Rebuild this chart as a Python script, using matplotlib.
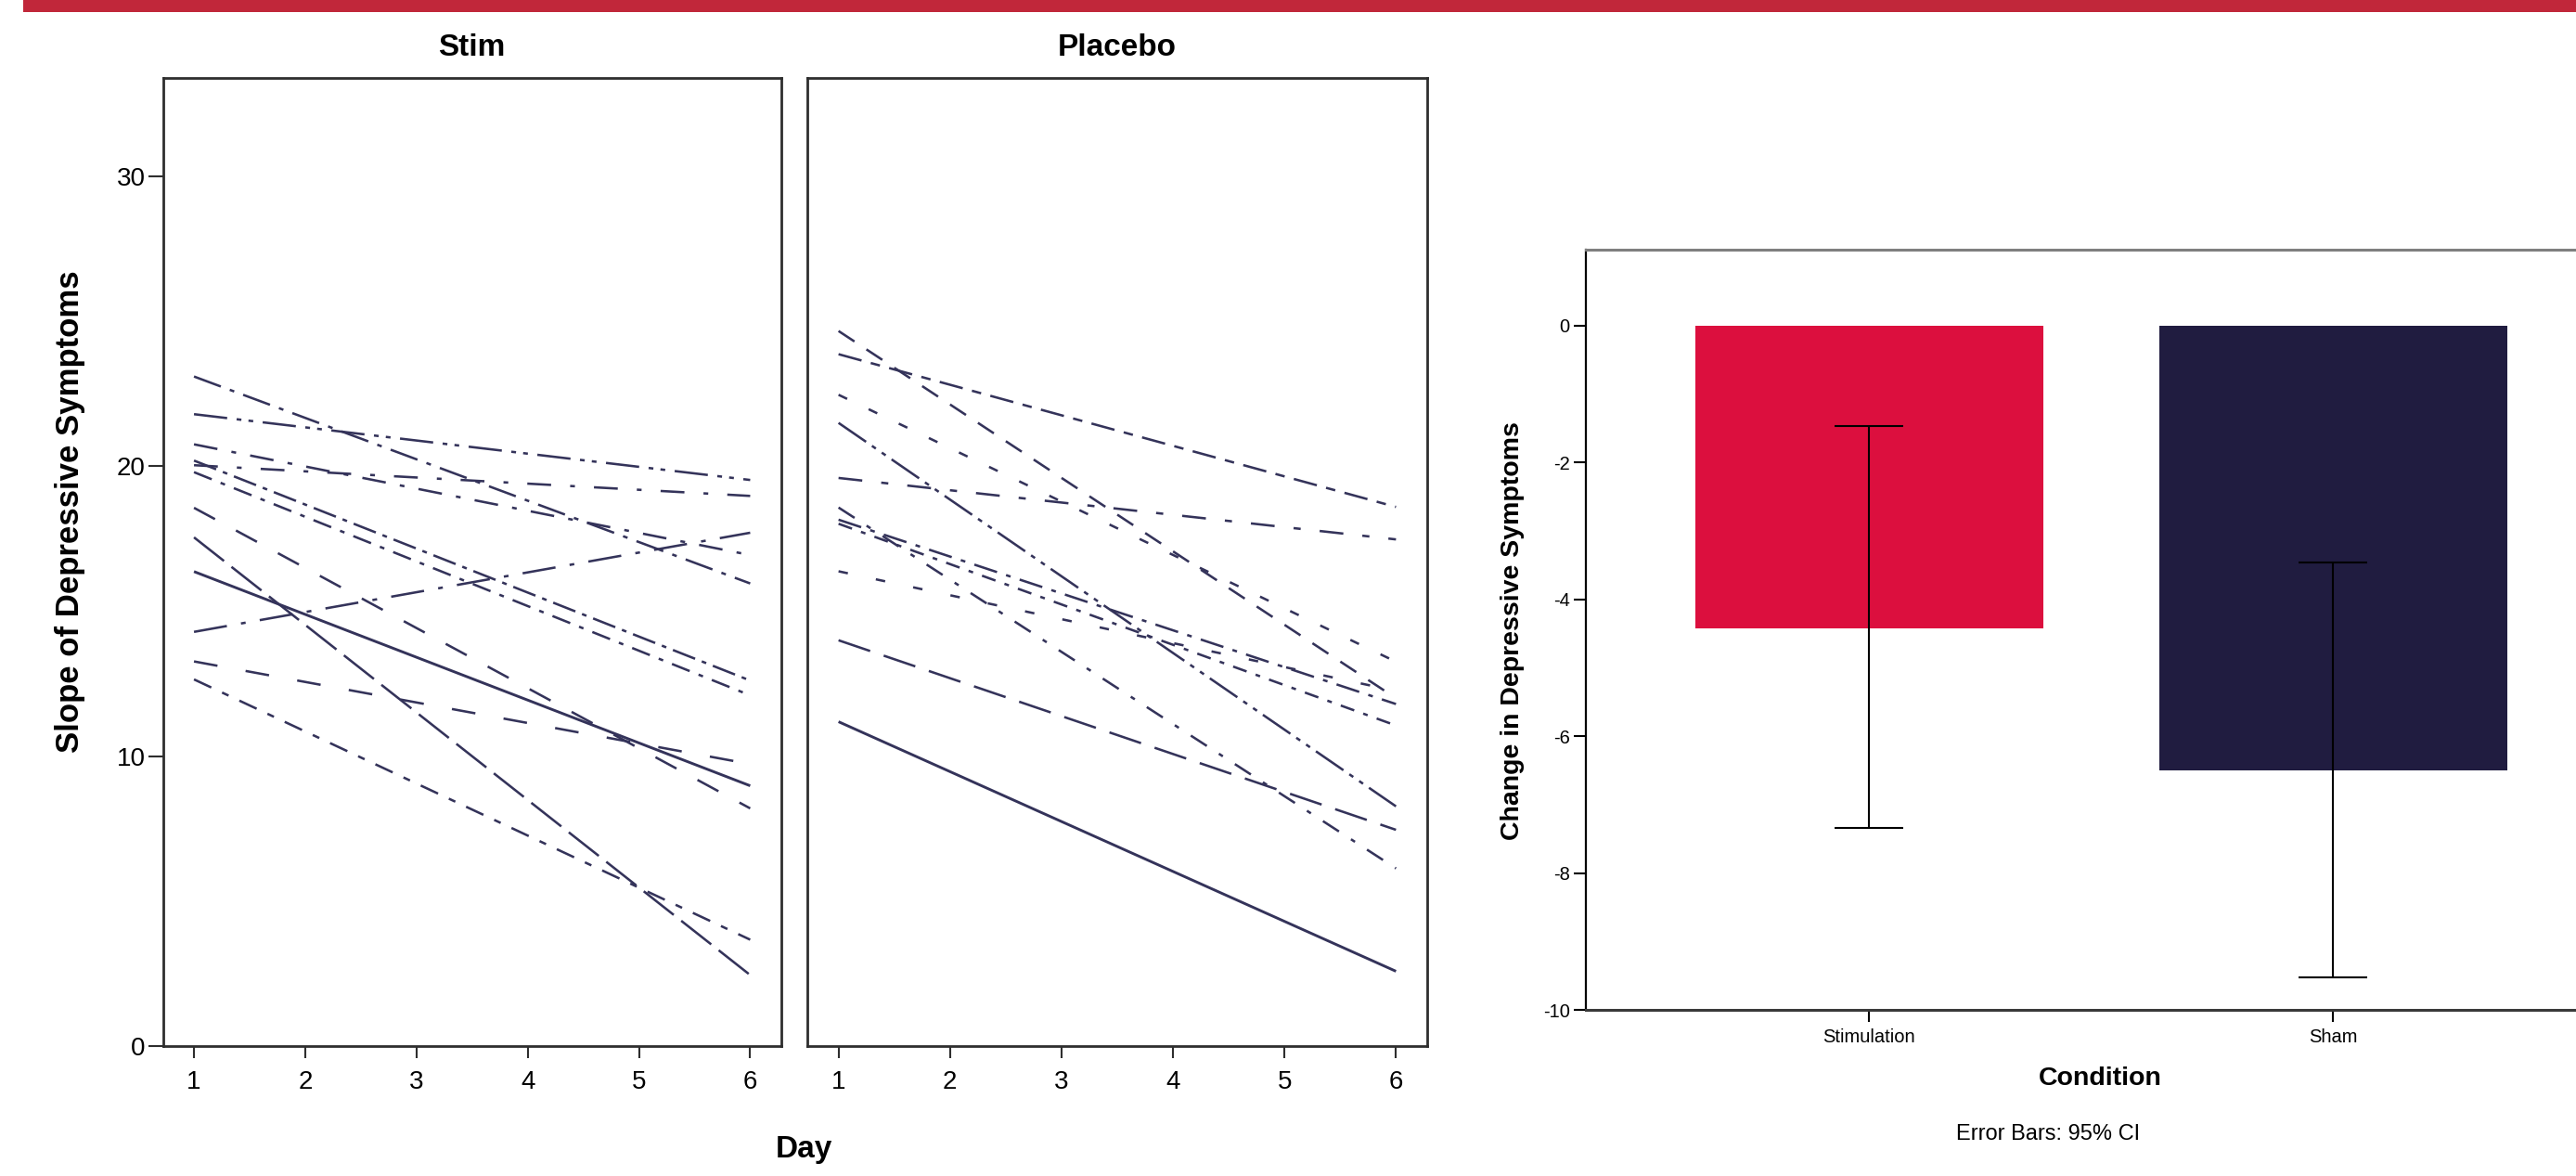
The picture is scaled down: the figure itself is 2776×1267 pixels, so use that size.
import matplotlib
matplotlib.use("Agg")
import matplotlib.pyplot as plt
from matplotlib.patches import Rectangle

plt.rcParams['font.family'] = ['Liberation Sans', 'DejaVu Sans']

# ---------------- data ----------------
days_stim = [1, 6]
stim_start = [23.1, 21.8, 20.76, 20.2, 20.04, 19.8, 18.57, 17.55, 16.37, 14.29, 13.27, 12.65]
stim_end   = [15.96, 19.53, 16.94, 12.61, 18.98, 12.1, 8.2, 2.45, 8.98, 17.71, 9.73, 3.67]

days_placebo = [1, 6]
placebo_start = [24.67, 23.87, 22.47, 21.5, 19.6, 18.58, 18.16, 18.02, 16.38, 14.0, 11.19]
placebo_end   = [12.0, 18.6, 13.26, 8.27, 17.48, 6.13, 11.8, 11.06, 12.25, 7.46, 2.58]

day_ticks = [1, 2, 3, 4, 5, 6]
slope_ticks = [0, 10, 20, 30]
panel_titles = ["Stim", "Placebo"]

conditions = ["Stimulation", "Sham"]
change_mean = [-4.42, -6.50]
ci_low = [-7.34, -9.53]
ci_high = [-1.47, -3.46]
bar_yticks = [0, -2, -4, -6, -8, -10]

# ---------------- styles ----------------
stim_styles = [(0, (12, 4, 2, 4)), (0, (14, 4, 2, 3, 2, 4)), (0, (10, 6, 2, 6)),
               (0, (10, 3, 2, 3)), (0, (10, 8, 2, 8)), (0, (8, 4, 2, 4)),
               (0, (10, 10)), (0, (16, 4)), '-', (0, (14, 6, 2, 6)),
               (0, (10, 12)), (0, (8, 5, 3, 5))]
placebo_styles = [(0, (8, 6)), (0, (10, 4, 4, 4)), (0, (4, 10)), (0, (14, 3, 2, 3, 2, 3)),
                  (0, (10, 8, 3, 8)), (0, (8, 6, 2, 6)), (0, (10, 4, 2, 4)),
                  (0, (6, 4, 2, 4)), (0, (4, 12)), (0, (14, 6)), '-']

W, H = 2776, 1267
DPI = 100
fig = plt.figure(figsize=(W / DPI, H / DPI), dpi=DPI)

def fx(px):
    return px / W

def fy(py):
    return 1 - py / H

line_color = '#34335a'
spine_color = '#2e2e2e'

# top red banner
fig.add_artist(Rectangle((fx(25), fy(13)), 1 - fx(25), 13 / H,
                         transform=fig.transFigure, facecolor='#c1273a',
                         edgecolor='none'))

# ---------------- line panels ----------------
top_px, bot_px = 84, 1127
panels = [(175.5, 842), (870, 1538)]
datasets = [(days_stim, stim_start, stim_end, stim_styles),
            (days_placebo, placebo_start, placebo_end, placebo_styles)]

for i, ((l, r), (days, st, en, styles)) in enumerate(zip(panels, datasets)):
    ax = fig.add_axes([fx(l), fy(bot_px), (r - l) / W, (bot_px - top_px) / H])
    for s, e, ls in zip(st, en, styles):
        lw = 2.1 if ls == '-' else 1.85
        ax.plot(days, [s, e], color=line_color, lw=lw, linestyle=ls,
                solid_capstyle='butt', dash_capstyle='butt')
    ax.set_xlim(0.72, 6.28)
    ax.set_ylim(0, 33.4)
    ax.set_xticks(day_ticks)
    ax.set_xticklabels([str(d) for d in day_ticks], fontsize=20)
    ax.tick_params(axis='x', direction='out', length=9.5, width=1.5,
                   color=spine_color, pad=9)
    if i == 0:
        ax.set_yticks(slope_ticks)
        ax.set_yticklabels([str(t) for t in slope_ticks], fontsize=20)
        ax.tick_params(axis='y', direction='out', length=11.5, width=1.5,
                       color=spine_color, pad=2)
    else:
        ax.set_yticks([])
    for sp in ax.spines.values():
        sp.set_color(spine_color)
        sp.set_linewidth(2.0)
    ax.text(0.5, 1 + (top_px - 52) / (bot_px - top_px), panel_titles[i],
            transform=ax.transAxes, ha='center', va='center',
            fontsize=24, fontweight='bold')

fig.text(fx(76), fy(551), "Slope of Depressive Symptoms", rotation=90,
         ha='center', va='center', fontsize=25, fontweight='bold')
fig.text(fx(866), fy(1238), "Day", ha='center', va='center',
         fontsize=24, fontweight='bold')

# ---------------- bar chart ----------------
bl, br, bt, bb = 1709, 2819, 269, 1088
axb = fig.add_axes([fx(bl), fy(bb), (br - bl) / W, (bb - bt) / H])
xpos = list(range(len(conditions)))
axb.bar(xpos, change_mean, width=0.75, color=['#dc0f3e', '#201c40'],
        edgecolor='none', zorder=2)
yerr_low = [m - lo for m, lo in zip(change_mean, ci_low)]
yerr_high = [hi - m for m, hi in zip(change_mean, ci_high)]
axb.errorbar(xpos, change_mean, yerr=[yerr_low, yerr_high], fmt='none',
             ecolor='black', elinewidth=1.5, capsize=26.5, capthick=1.5, zorder=3)
axb.set_xlim(-0.61, 1.61)
axb.set_ylim(-10, 1.11)
axb.set_xticks(xpos)
axb.set_xticklabels(conditions, fontsize=14.5)
axb.set_yticks(bar_yticks)
axb.set_yticklabels([str(t) for t in bar_yticks], fontsize=14.5)
axb.tick_params(axis='y', direction='out', length=9.4, width=1.5, pad=3)
axb.tick_params(axis='x', direction='out', length=9.4, width=1.5, pad=5)
axb.spines['right'].set_visible(False)
axb.spines['left'].set_color('black')
axb.spines['left'].set_linewidth(1.6)
axb.spines['bottom'].set_color('#3a3a3a')
axb.spines['bottom'].set_linewidth(2.2)
axb.spines['top'].set_color('#7f7f7f')
axb.spines['top'].set_linewidth(2.2)

fig.text(fx(1630), fy(680), "Change in Depressive Symptoms", rotation=90,
         ha='center', va='center', fontsize=20.5, fontweight='bold')
fig.text(fx(2263), fy(1162), "Condition", ha='center', va='center',
         fontsize=20.5, fontweight='bold')
fig.text(fx(2207), fy(1222), "Error Bars: 95% CI", ha='center', va='center',
         fontsize=17)

fig.savefig("out.png", dpi=DPI)
